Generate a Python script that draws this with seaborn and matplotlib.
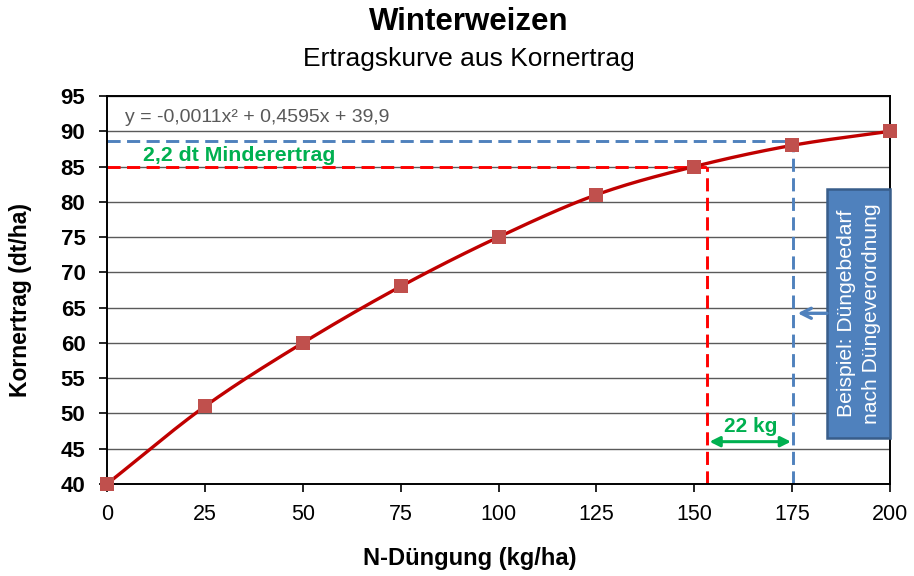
import numpy as np
import pandas as pd
import matplotlib
matplotlib.use("Agg")
import matplotlib.pyplot as plt
from matplotlib.patches import Rectangle
import seaborn as sns

# ---- data ----
n_duengung = [0, 25, 50, 75, 100, 125, 150, 175, 200]
kornertrag = [40, 51, 60, 68, 75, 81, 85, 88, 90]
x_ticks = [0, 25, 50, 75, 100, 125, 150, 175, 200]
y_ticks = [40, 45, 50, 55, 60, 65, 70, 75, 80, 85, 90, 95]
equation = "y = -0,0011x² + 0,4595x + 39,9"
red_ref_x, red_ref_y = 153.3, 85
blue_ref_x, blue_ref_y = 175.3, 88.6
diff_y = 46

sns.set_theme(style="white")
plt.rcParams['font.family'] = ['Liberation Sans', 'DejaVu Sans']
for k in ["text.color", "axes.labelcolor", "xtick.color", "ytick.color"]:
    plt.rcParams[k] = "black"

fig = plt.figure(figsize=(9.14, 5.76), dpi=100)
ax = fig.add_axes([107/914, 1-484/576, (890-107)/914, (484-96)/576])


def smooth(xs, ys, n=30):
    # Catmull-Rom rendering of the series line (like a spreadsheet "smoothed line")
    P = np.column_stack([xs, ys]).astype(float)
    P = np.vstack([P[0] - (P[1] - P[0]), P, P[-1] + (P[-1] - P[-2])])
    out = []
    t = np.linspace(0, 1, n)[:, None]
    for i in range(1, len(P) - 2):
        p0, p1, p2, p3 = P[i-1], P[i], P[i+1], P[i+2]
        seg = 0.5 * ((2*p1) + (-p0 + p2)*t + (2*p0 - 5*p1 + 4*p2 - p3)*t**2 + (-p0 + 3*p1 - 3*p2 + p3)*t**3)
        out.append(seg if i == 1 else seg[1:])
    return np.vstack(out)

curve = smooth(n_duengung, kornertrag)
df_curve = pd.DataFrame({"x": curve[:, 0], "y": curve[:, 1]})
df_pts = pd.DataFrame({"x": n_duengung, "y": kornertrag})

# gridlines
for yv in y_ticks:
    ax.axhline(yv, color="#5a5a5a", lw=1.0, zorder=0)

# reference lines
dash = (0, (4.5, 2.2))
ax.plot([0, red_ref_x], [red_ref_y, red_ref_y], color="#FF0000", lw=2.1, ls=dash, zorder=2)
ax.plot([red_ref_x, red_ref_x], [40, red_ref_y], color="#FF0000", lw=2.1, ls=dash, zorder=2)
ax.plot([0, blue_ref_x], [blue_ref_y, blue_ref_y], color="#4F81BD", lw=2.1, ls=dash, zorder=2)
ax.plot([blue_ref_x, blue_ref_x], [40, blue_ref_y], color="#4F81BD", lw=2.1, ls=dash, zorder=2)

sns.lineplot(data=df_curve, x="x", y="y", ax=ax, color="#C00000", lw=2.4, sort=False, zorder=3)
sns.scatterplot(data=df_pts, x="x", y="y", ax=ax, marker="s", s=105, color="#C0504D",
                edgecolor="#C0504D", linewidth=0, zorder=4, clip_on=False)

ax.set_xlim(0, 200)
ax.set_ylim(40, 95)
ax.set_xticks(x_ticks)
ax.set_yticks(y_ticks)
ax.set_xticklabels([str(v) for v in x_ticks], fontsize=15.5)
ax.set_yticklabels([str(v) for v in y_ticks], fontsize=16, fontweight="bold")
ax.tick_params(axis="both", direction="out", length=5.5, width=1.2, color="black", bottom=True, left=True)
ax.tick_params(axis="x", pad=9)
ax.tick_params(axis="y", pad=10)
for s in ax.spines.values():
    s.set_color("black")
    s.set_linewidth(1.4)

ax.set_xlabel("N-Düngung (kg/ha)", fontsize=17, fontweight="bold")
ax.xaxis.set_label_coords((470-107)/783, (484-558)/388)
ax.xaxis.label.set_verticalalignment("center")
ax.set_ylabel("Kornertrag (dt/ha)", fontsize=16.5, fontweight="bold")
ax.yaxis.set_label_coords((21-107)/783, (484-300)/388)
ax.yaxis.label.set_verticalalignment("center")

fig.text(469/914, 1-22/576, "Winterweizen", ha="center", va="center", fontsize=22.5, fontweight="bold")
fig.text(469/914, 1-59/576, "Ertragskurve aus Kornertrag", ha="center", va="center", fontsize=19)

# equation
ax.text(4.6, 91.9, equation, fontsize=14, color="#595959", va="center", ha="left",
        bbox=dict(facecolor="white", edgecolor="none", pad=1), zorder=5)

# annotations
ax.text(9.2, 86.6, "2,2 dt Minderertrag", fontsize=15.3, fontweight="bold", color="#00B050",
        va="center", ha="left", zorder=5)
ax.annotate("", xy=(red_ref_x + 0.6, diff_y), xytext=(blue_ref_x - 0.6, diff_y),
            arrowprops=dict(arrowstyle="<|-|>", color="#00B050", lw=2.2, mutation_scale=15,
                            shrinkA=0, shrinkB=0), zorder=5)
ax.text((red_ref_x + blue_ref_x) / 2, 48.1, "22 kg", fontsize=15, fontweight="bold",
        color="#00B050", ha="center", va="center", zorder=5)

# blue box
bx0, bx1 = 183.9, 200
by0, by1 = 46.5, 81.8
ax.add_patch(Rectangle((bx0, by0), bx1 - bx0, by1 - by0, facecolor="#4F81BD",
                       edgecolor="#385D8A", lw=1.8, zorder=5, clip_on=False))
ax.text((bx0 + bx1) / 2 + 0.2, (by0 + by1) / 2, "Beispiel: Düngebedarf\nnach Düngeverordnung",
        rotation=90, color="white", fontsize=15.2, ha="center", va="center",
        multialignment="center", zorder=6, linespacing=1.4)
ax.annotate("", xy=(176.4, 64.2), xytext=(bx0, 64.2),
            arrowprops=dict(arrowstyle="->", color="#4F81BD", lw=2.4, mutation_scale=18,
                            shrinkA=0, shrinkB=0), zorder=5)

fig.savefig("out.png", dpi=100)
